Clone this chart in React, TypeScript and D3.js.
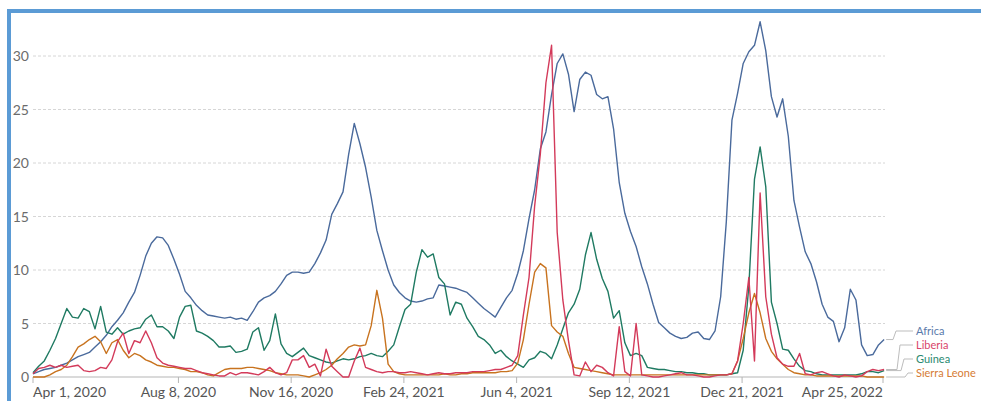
import React from 'react';
import * as d3 from 'd3';

// readings every 5 days starting Apr 1, 2020
const startDate = new Date(2020, 3, 1);
const stepDays = 5;

const africa = [
  0.3, 0.5, 0.7, 0.8, 0.9, 1.1, 1.3, 1.6, 1.9, 2.1,
  2.3, 2.8, 3.3, 3.9, 4.7, 5.3, 6.0, 7.0, 7.9, 9.5,
  11.3, 12.5, 13.1, 13.0, 12.3, 11.0, 9.6, 8.0, 7.4, 6.7,
  6.2, 5.8, 5.7, 5.6, 5.5, 5.6, 5.4, 5.5, 5.3, 6.1,
  7.0, 7.4, 7.6, 8.0, 8.7, 9.5, 9.8, 9.8, 9.7, 9.8,
  10.6, 11.6, 12.8, 15.2, 16.2, 17.3, 20.8, 23.7, 21.8, 19.6,
  16.8, 13.7, 11.8, 10.0, 8.6, 7.9, 7.4, 7.1, 7.0, 7.1,
  7.3, 7.4, 8.6, 8.5, 8.4, 8.3, 8.1, 7.9, 7.4, 6.9,
  6.4, 6.0, 5.6, 6.5, 7.4, 8.1, 9.7, 11.8, 14.8, 17.5,
  21.3, 22.9, 26.4, 29.3, 30.2, 28.3, 24.8, 27.8, 28.5, 28.2,
  26.4, 26.0, 26.2, 23.2, 18.2, 15.3, 13.6, 12.2, 10.3, 8.7,
  6.8, 5.1, 4.6, 4.1, 3.8, 3.6, 3.7, 4.1, 4.2, 3.6,
  3.5, 4.3, 7.5, 14.5, 24.0, 26.5, 29.3, 30.4, 31.0, 33.2,
  30.5, 26.2, 24.3, 26.0, 22.5, 16.5, 14.0, 11.7, 10.6, 8.9,
  6.8, 5.6, 5.2, 3.3, 4.6, 8.2, 7.2, 3.0, 2.0, 2.1,
  3.0, 3.5,
];

const liberia = [
  0.3, 0.8, 0.9, 1.1, 0.9, 1.1, 0.9, 1.0, 1.1, 0.6,
  0.5, 0.6, 0.9, 0.8, 1.6, 3.3, 4.1, 2.2, 3.4, 3.2,
  4.3, 3.2, 1.8, 1.3, 1.1, 1.0, 0.9, 0.8, 0.8, 0.6,
  0.4, 0.3, 0.2, 0.1, 0.1, 0.4, 0.2, 0.4, 0.4, 0.3,
  0.2, 0.5, 0.9, 0.4, 0.2, 0.4, 1.6, 1.6, 2.0, 0.9,
  1.2, 0.1, 2.6, 1.0, 0.5, 0.0, 0.0, 1.5, 2.7, 0.9,
  0.7, 0.5, 0.4, 0.5, 0.5, 0.4, 0.4, 0.5, 0.4, 0.3,
  0.2, 0.3, 0.4, 0.3, 0.3, 0.4, 0.4, 0.4, 0.5, 0.5,
  0.5, 0.6, 0.7, 0.7, 0.9, 1.1, 2.0, 5.8, 9.3, 16.0,
  20.8, 27.5, 31.0, 13.5, 7.2, 3.4, 0.2, 0.1, 1.4, 0.5,
  1.1, 0.9, 0.4, 0.1, 4.7, 0.5, 0.1, 5.0, 0.2, 0.1,
  0.0, 0.0, 0.1, 0.2, 0.3, 0.4, 0.2, 0.2, 0.1, 0.0,
  0.0, 0.1, 0.2, 0.2, 0.3, 1.5, 5.0, 9.3, 1.5, 17.2,
  7.5, 4.0, 1.8, 1.2, 1.0, 1.0, 2.2, 0.3, 0.2, 0.4,
  0.5, 0.3, 0.1, 0.0, 0.2, 0.1, 0.0, 0.1, 0.5, 0.7,
  0.6, 0.7,
];

const guinea = [
  0.4, 1.0, 1.5, 2.5, 3.6, 5.0, 6.4, 5.6, 5.5, 6.4,
  6.1, 4.5, 6.6, 4.2, 4.0, 4.6, 4.0, 4.3, 4.5, 4.6,
  5.4, 5.8, 4.7, 4.7, 4.3, 3.6, 5.6, 6.6, 6.7, 4.3,
  4.1, 3.8, 3.4, 2.8, 2.8, 2.9, 2.3, 2.4, 2.6, 4.2,
  4.6, 2.5, 3.4, 5.9, 3.1, 2.2, 1.9, 2.3, 2.7, 2.0,
  1.8, 1.6, 1.4, 1.3, 1.5, 1.7, 1.6, 1.7, 1.9, 2.0,
  2.2, 2.0, 1.9, 2.4, 3.0, 4.7, 6.3, 6.8, 9.8, 11.9,
  11.2, 11.5, 9.3, 8.7, 5.8, 7.0, 6.8, 5.5, 4.7, 3.8,
  3.5, 3.0, 2.2, 2.5, 1.9, 1.5, 1.2, 0.9, 1.6, 1.8,
  2.4, 2.2, 1.7, 3.0, 4.5, 6.0, 6.8, 8.2, 11.4, 13.5,
  11.0, 9.2, 8.0, 5.5, 6.2, 3.2, 2.0, 2.2, 2.0, 0.9,
  0.8, 0.7, 0.7, 0.6, 0.5, 0.5, 0.4, 0.4, 0.3, 0.3,
  0.2, 0.2, 0.2, 0.2, 0.3, 0.4, 2.5, 8.5, 18.5, 21.5,
  17.8, 7.0, 5.0, 2.6, 2.5, 1.7, 1.0, 0.6, 0.5, 0.3,
  0.2, 0.2, 0.2, 0.2, 0.2, 0.2, 0.2, 0.3, 0.5, 0.5,
  0.4, 0.6,
];

const sierraLeone = [
  0.0, 0.0, 0.0, 0.2, 0.5, 0.7, 1.1, 1.9, 2.8, 3.1,
  3.5, 3.8, 3.3, 2.2, 3.2, 3.5, 2.5, 1.8, 2.2, 2.0,
  1.6, 1.4, 1.1, 1.0, 0.9, 0.9, 0.8, 0.7, 0.5, 0.5,
  0.4, 0.2, 0.1, 0.4, 0.7, 0.8, 0.8, 0.8, 0.9, 0.9,
  0.8, 0.7, 0.6, 0.4, 0.3, 0.2, 0.2, 0.2, 0.1, 0.0,
  0.2, 0.4, 0.7, 1.1, 1.7, 2.2, 2.8, 3.0, 2.9, 3.0,
  4.8, 8.1, 5.5, 1.2, 0.5, 0.3, 0.2, 0.2, 0.2, 0.2,
  0.2, 0.2, 0.2, 0.3, 0.2, 0.2, 0.3, 0.3, 0.4, 0.4,
  0.4, 0.4, 0.4, 0.5, 0.5, 0.6, 1.3, 3.5, 6.8, 9.8,
  10.6, 10.2, 4.8, 4.2, 3.8, 2.2, 0.9, 0.8, 0.7, 0.6,
  0.5, 0.4, 0.3, 0.2, 0.2, 0.2, 0.2, 0.2, 0.2, 0.2,
  0.2, 0.2, 0.2, 0.2, 0.2, 0.2, 0.2, 0.2, 0.2, 0.2,
  0.2, 0.2, 0.2, 0.2, 0.3, 1.5, 3.6, 6.0, 7.8, 6.0,
  3.6, 2.4, 1.7, 1.2, 0.7, 0.4, 0.3, 0.2, 0.2, 0.1,
  0.1, 0.1, 0.1, 0.1, 0.1, 0.1, 0.1, 0.1, 0.0, 0.0,
  0.0, 0.0,
];

const tickDates = ['2020-04-01', '2020-08-08', '2020-11-16', '2021-02-24', '2021-06-04', '2021-09-12', '2021-12-21', '2022-04-25'];
const yTicks = [0, 5, 10, 15, 20, 25, 30];

const series = [
  { name: 'Africa', values: africa, color: '#4a6a9c', label: '#5a7aab', elbow: 893, labelY: 331 },
  { name: 'Guinea', values: guinea, color: '#1f7a62', label: '#2a8a70', elbow: 901, labelY: 359 },
  { name: 'Sierra Leone', values: sierraLeone, color: '#c8731f', label: '#d67c34', elbow: 905, labelY: 373 },
  { name: 'Liberia', values: liberia, color: '#d33a5a', label: '#d9456a', elbow: 897, labelY: 345 },
];
const legendOrder = ['Africa', 'Liberia', 'Guinea', 'Sierra Leone'];

const parseDay = d3.timeParse('%Y-%m-%d');
const fmt = d3.timeFormat('%b %-d, %Y');

export default function App() {
  const width = 981, height = 401;
  const x = d3.scaleTime()
    .domain([parseDay('2020-04-01') as Date, parseDay('2022-04-25') as Date])
    .range([33, 883]);
  const y = d3.scaleLinear().domain([0, 30]).range([377, 56]);

  const line = d3.line<number>()
    .x((d, i) => x(d3.timeDay.offset(startDate, i * stepDays)))
    .y(d => y(d));

  const ticks = tickDates.map(s => parseDay(s) as Date);
  const font = 'Lato, "Open Sans", sans-serif';

  return (
    <svg width={width} height={height} style={{ position: 'absolute', left: 0, top: 0, background: '#fff' }}>
      {/* grid */}
      {yTicks.map(t => (
        <g key={t}>
          {t > 0 && (
            <line x1={x.range()[0]} x2={x.range()[1] + 2} y1={y(t)} y2={y(t)}
              stroke="#d6d6d6" strokeDasharray="3,2" strokeWidth={1} />
          )}
          <text x={29} y={y(t) + 5} textAnchor="end" fontFamily={font} fontSize={14} fill="#6b6b6b">{t}</text>
        </g>
      ))}
      <line x1={x.range()[0]} x2={x.range()[1]} y1={y(0)} y2={y(0)} stroke="#b5b5b5" strokeWidth={1} />
      {ticks.map((d, i) => (
        <g key={i}>
          <line x1={x(d)} x2={x(d)} y1={y(0)} y2={y(0) + 6} stroke="#b5b5b5" />
          <text x={x(d)} y={397} fontFamily={font} fontSize={14} fill="#555"
            textAnchor={i === 0 ? 'start' : i === ticks.length - 1 ? 'end' : 'middle'}>{fmt(d)}</text>
        </g>
      ))}

      {series.map(s => (
        <path key={s.name} d={line(s.values) || ''} fill="none" stroke={s.color} strokeWidth={1.4} strokeLinejoin="round" />
      ))}

      {/* end labels */}
      {legendOrder.map(n => {
        const s = series.find(d => d.name === n)!;
        const last = s.values.length - 1;
        const ex = x(d3.timeDay.offset(startDate, last * stepDays)) + 2;
        const ey = y(s.values[last]);
        return (
          <g key={n}>
            <polyline points={`${ex},${ey} ${s.elbow},${ey} ${s.elbow + 3},${s.labelY} ${913},${s.labelY}`}
              fill="none" stroke="#bdbdbd" strokeWidth={1} />
            <text x={916} y={s.labelY + 4} fontFamily={font} fontSize={11} fill={s.label}>{n}</text>
          </g>
        );
      })}

      {/* screenshot frame */}
      <path d={`M 9 ${height} V 11 H ${width}`} fill="none" stroke="#5b9bd5" strokeWidth={4} />
    </svg>
  );
}
